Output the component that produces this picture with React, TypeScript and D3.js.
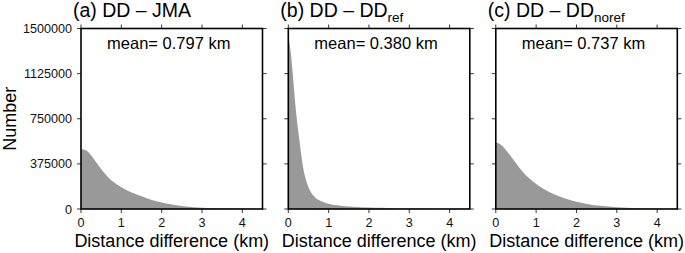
import React from "react";
import * as d3 from "d3";

const W = 685;
const H = 253;

// Distance difference (km) sample positions
const distKm = [0, 0.05, 0.1, 0.15, 0.2, 0.25, 0.3, 0.35, 0.4, 0.45, 0.5, 0.6, 0.7, 0.8, 0.9, 1.0, 1.2, 1.4, 1.6, 1.8, 2.0, 2.3, 2.6, 3.0, 3.5, 4.0, 4.5];

// (a) DD - JMA
const countsA = [496000, 495000, 490000, 481000, 466000, 446000, 424000, 401000, 378000, 355000, 332000, 291000, 256000, 226000, 201000, 180000, 146000, 118000, 93000, 71000, 54000, 35000, 21000, 11000, 5500, 2800, 1500];
// (b) DD - DDref
const countsB = [1440000, 1330000, 1163000, 960000, 780000, 635000, 505000, 385000, 290000, 228000, 180000, 120000, 86000, 66000, 54000, 44000, 31000, 23000, 18000, 15000, 13000, 9500, 7000, 4500, 2800, 1800, 1200];
// (c) DD - DDnoref
const countsC = [551000, 549000, 541000, 528000, 511000, 491000, 470000, 448000, 426000, 404000, 382000, 337000, 297000, 263000, 234000, 208000, 164000, 128000, 101000, 79000, 61000, 40000, 26000, 14000, 5500, 2800, 1500];

const panelLabels = ["(a) DD \u2013 JMA", "(b) DD \u2013 DD", "(c) DD \u2013 DD"];
const panelSubs = ["", "ref", "noref"];
const meanTexts = ["mean= 0.797 km", "mean= 0.380 km", "mean= 0.737 km"];
const yTicks = [0, 375000, 750000, 1125000, 1500000];
const xTicks = [0, 1, 2, 3, 4];

const panelLefts = [81, 288.3, 495.8];
const panelW = 181.5;
const top = 28.5;
const bottom = 209;
const font = "'Liberation Sans', Arial, Helvetica, sans-serif";

function Panel({ idx, counts }: { idx: number; counts: number[] }) {
  const x0 = panelLefts[idx];
  const x = d3.scaleLinear().domain([0, 4.5]).range([x0, x0 + panelW]);
  const y = d3.scaleLinear().domain([0, 1500000]).range([bottom, top]);
  const pts = distKm.map((d, i) => [d, counts[i]] as [number, number]);
  const area = d3
    .area<[number, number]>()
    .x((d) => x(d[0]))
    .y0(bottom)
    .y1((d) => y(d[1]))
    .curve(d3.curveMonotoneX);
  const tl = 4;
  return (
    <g>
      <path d={area(pts) || ""} fill="#999999" stroke="none" />
      {xTicks.map((t) => (
        <g key={"xt" + t}>
          <line x1={x(t)} x2={x(t)} y1={bottom} y2={bottom + tl} stroke="#222" strokeWidth={0.9} />
          <line x1={x(t)} x2={x(t)} y1={top} y2={top - tl} stroke="#222" strokeWidth={0.9} />
          <text x={x(t)} y={227} textAnchor="middle" fontSize={12.6} fontFamily={font} fill="#111">
            {t}
          </text>
        </g>
      ))}
      {yTicks.map((t) => (
        <g key={"yt" + t}>
          <line x1={x0} x2={x0 - tl} y1={y(t)} y2={y(t)} stroke="#222" strokeWidth={0.9} />
          <line x1={x0 + panelW} x2={x0 + panelW + tl} y1={y(t)} y2={y(t)} stroke="#222" strokeWidth={0.9} />
          {idx === 0 && (
            <text x={x0 - 9} y={y(t) + 4.5} textAnchor="end" fontSize={12.6} fontFamily={font} fill="#111">
              {t}
            </text>
          )}
        </g>
      ))}
      <rect x={x0} y={top} width={panelW} height={bottom - top} fill="none" stroke="#000" strokeWidth={1.6} />
      <text x={x0 - 8} y={17} fontSize={19.5} fontFamily={font} fill="#000">
        {panelLabels[idx]}
        {panelSubs[idx] && (
          <tspan fontSize={13.5} dy={5}>
            {panelSubs[idx]}
          </tspan>
        )}
      </text>
      <text x={x0 + panelW / 2 - 3} y={49} textAnchor="middle" fontSize={16.5} fontFamily={font} fill="#000">
        {meanTexts[idx]}
      </text>
      <text x={x0 + panelW / 2} y={247} textAnchor="middle" fontSize={18} fontFamily={font} fill="#000">
        Distance difference (km)
      </text>
    </g>
  );
}

export default function App() {
  const all = [countsA, countsB, countsC];
  return (
    <svg width={W} height={H} style={{ position: "absolute", left: 0, top: 0, background: "#fff" }}>
      <rect x={0} y={0} width={W} height={H} fill="#fff" />
      {all.map((c, i) => (
        <Panel key={i} idx={i} counts={c} />
      ))}
      <text
        transform={`translate(15.5, ${(top + bottom) / 2}) rotate(-90)`}
        textAnchor="middle"
        fontSize={18}
        fontFamily={font}
        fill="#000"
      >
        Number
      </text>
    </svg>
  );
}
